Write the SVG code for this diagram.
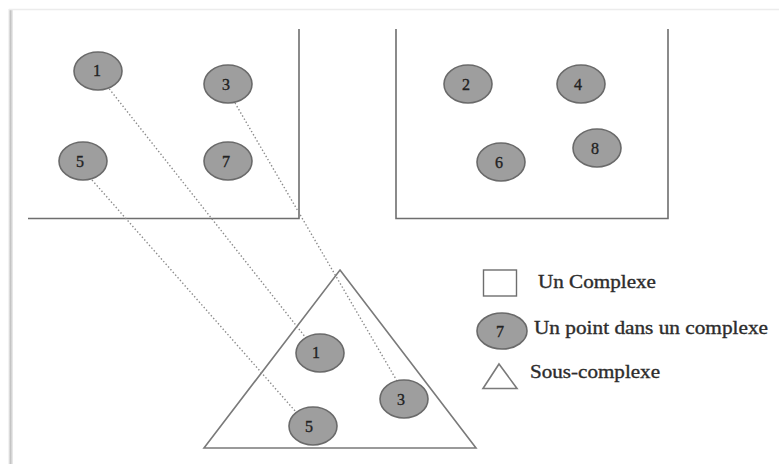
<svg xmlns="http://www.w3.org/2000/svg" width="779" height="464" viewBox="0 0 779 464">
  <style>
    .box { fill: none; stroke: #6e6e6e; stroke-width: 1.6; }
    .pt ellipse { fill: #9e9e9e; stroke: #6a6a6a; stroke-width: 1.6; }
    .pt text { font-family: "Liberation Serif", serif; font-size: 16px; fill: #222222; stroke: #222222; stroke-width: 0.35; text-anchor: middle; }
    .tri { fill: none; stroke: #7a7a7a; stroke-width: 1.6; }
    .link { stroke: #8a8a8a; stroke-width: 1.4; stroke-dasharray: 1.4 2.2; fill: none; }
    .lbl { font-family: "Liberation Serif", serif; font-size: 18px; fill: #2c2c2c; stroke: #2c2c2c; stroke-width: 0.35; }
  </style>
  <defs>
    <linearGradient id="edge" x1="0" x2="1" y1="0" y2="0">
      <stop offset="0" stop-color="#ffffff"/>
      <stop offset="0.5" stop-color="#c4c4c4"/>
      <stop offset="1" stop-color="#f0f0f0"/>
    </linearGradient>
  </defs>
  <rect width="779" height="464" fill="#ffffff"/>

  <!-- page border -->
  <rect x="8" y="9" width="5" height="455" fill="url(#edge)"/>
  <line x1="9" y1="9.5" x2="779" y2="9.5" stroke="#ececec" stroke-width="1.5"/>

  <!-- complexes -->
  <g id="complex-left">
    <polyline class="box" points="299,29 299,218.5 28,218.5"/>
  </g>
  <g id="complex-right">
    <polyline class="box" points="396,29 396,218.5 668,218.5 668,29"/>
  </g>

  <!-- sub-complex -->
  <g id="subcomplex">
    <polygon class="tri" points="340,270 476,448 204,448"/>
  </g>

  <!-- correspondences -->
  <g id="connectors">
    <line class="link" x1="107" y1="86" x2="306" y2="338"/>
    <line class="link" x1="235" y1="103" x2="397" y2="381"/>
    <line class="link" x1="92" y1="180" x2="296" y2="412"/>
  </g>

  <!-- points of the left complex -->
  <g id="p1" class="pt"><ellipse cx="98" cy="71" rx="24" ry="19"/><text x="97" y="76">1</text></g>
  <g id="p3" class="pt"><ellipse cx="228" cy="84" rx="24" ry="19"/><text x="226" y="90">3</text></g>
  <g id="p5" class="pt"><ellipse cx="83" cy="161" rx="24" ry="19"/><text x="80" y="167">5</text></g>
  <g id="p7" class="pt"><ellipse cx="228" cy="161" rx="24" ry="19"/><text x="226" y="167">7</text></g>

  <!-- points of the right complex -->
  <g id="p2" class="pt"><ellipse cx="468" cy="84" rx="24" ry="19"/><text x="466" y="90">2</text></g>
  <g id="p4" class="pt"><ellipse cx="581" cy="84" rx="24" ry="19"/><text x="578" y="90">4</text></g>
  <g id="p6" class="pt"><ellipse cx="501" cy="162" rx="24" ry="19"/><text x="499" y="168">6</text></g>
  <g id="p8" class="pt"><ellipse cx="597" cy="148" rx="24" ry="19"/><text x="595" y="154">8</text></g>

  <!-- points of the sub-complex -->
  <g id="s1" class="pt"><ellipse cx="320" cy="353" rx="24" ry="19"/><text x="316" y="358">1</text></g>
  <g id="s3" class="pt"><ellipse cx="404" cy="399" rx="24" ry="19"/><text x="401" y="405">3</text></g>
  <g id="s5" class="pt"><ellipse cx="313" cy="426" rx="24" ry="19"/><text x="309" y="432">5</text></g>

  <!-- legend -->
  <g id="legend-complex">
    <rect x="483.5" y="270" width="33" height="26" fill="none" stroke="#6e6e6e" stroke-width="1.4"/>
    <text class="lbl" x="538" y="288" textLength="118" lengthAdjust="spacingAndGlyphs">Un Complexe</text>
  </g>
  <g id="legend-point">
    <g class="pt">
      <ellipse cx="502" cy="331" rx="25" ry="18"/>
      <text x="500" y="337">7</text>
    </g>
    <text class="lbl" x="534" y="334" textLength="234" lengthAdjust="spacingAndGlyphs">Un point dans un complexe</text>
  </g>
  <g id="legend-subcomplex">
    <polygon class="tri" points="499,364 517,388.5 483,388.5" stroke-width="1.3"/>
    <text class="lbl" x="530" y="378" textLength="130" lengthAdjust="spacingAndGlyphs">Sous-complexe</text>
  </g>
</svg>
